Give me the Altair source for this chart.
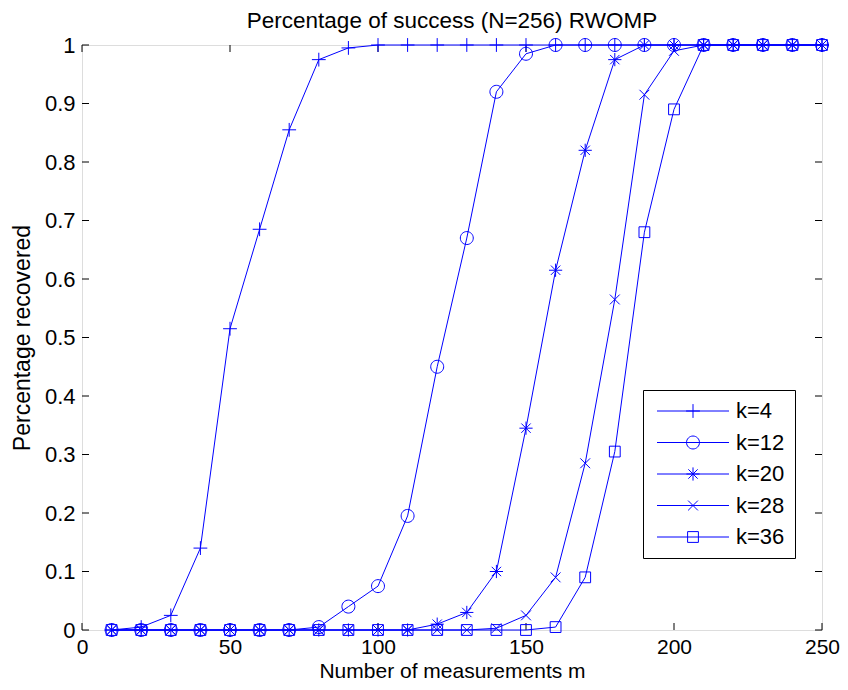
import altair as alt
import pandas as pd

# ---- data ----
m_values = [10, 20, 30, 40, 50, 60, 70, 80, 90, 100, 110, 120, 130,
            140, 150, 160, 170, 180, 190, 200, 210, 220, 230, 240, 250]
series_names = ["k=4", "k=12", "k=20", "k=28", "k=36"]
k4 = [0, 0.005, 0.025, 0.14, 0.515, 0.685, 0.855, 0.975, 0.995, 1, 1, 1, 1,
      1, 1, 1, 1, 1, 1, 1, 1, 1, 1, 1, 1]
k12 = [0, 0, 0, 0, 0, 0, 0, 0.005, 0.04, 0.075, 0.195, 0.45, 0.67,
       0.92, 0.985, 1, 1, 1, 1, 1, 1, 1, 1, 1, 1]
k20 = [0, 0, 0, 0, 0, 0, 0, 0, 0, 0, 0, 0.01, 0.03,
       0.10, 0.345, 0.615, 0.82, 0.975, 1, 1, 1, 1, 1, 1, 1]
k28 = [0, 0, 0, 0, 0, 0, 0, 0, 0, 0, 0, 0, 0,
       0.003, 0.025, 0.09, 0.285, 0.565, 0.915, 0.99, 1, 1, 1, 1, 1]
k36 = [0, 0, 0, 0, 0, 0, 0, 0, 0, 0, 0, 0, 0,
       0, 0, 0.005, 0.09, 0.305, 0.68, 0.89, 1, 1, 1, 1, 1]
x_ticks = [0, 50, 100, 150, 200, 250]
y_ticks = [0, 0.1, 0.2, 0.3, 0.4, 0.5, 0.6, 0.7, 0.8, 0.9, 1]

rows = []
for name, vals in zip(series_names, [k4, k12, k20, k28, k36]):
    for m, v in zip(m_values, vals):
        rows.append({"m": m, "p": v, "series": name})
df = pd.DataFrame(rows)
xt_df = pd.DataFrame({"m": x_ticks})
yt_df = pd.DataFrame({"p": y_ticks})

# ---- style ----
W, H = 740, 585
BLUE = "#0000ff"
FONT = "Liberation Sans"
FS = 22
TK = 7

marker_paths = [
    "M-1.15,0L1.15,0M0,-1.15L0,1.15",
    "M-1.08,0A1.08,1.08 0 1,0 1.08,0A1.08,1.08 0 1,0 -1.08,0Z",
    "M-1.1,0L1.1,0M0,-1.1L0,1.1M-0.78,-0.78L0.78,0.78M-0.78,0.78L0.78,-0.78",
    "M-0.82,-0.82L0.82,0.82M-0.82,0.82L0.82,-0.82",
    "M-0.9,-0.9L0.9,-0.9L0.9,0.9L-0.9,0.9Z",
]
legend_paths = ["M-6,0L6,0" + p for p in marker_paths]

x_scale = alt.Scale(domain=[0, 250], nice=False, zero=False)
y_scale = alt.Scale(domain=[0, 1], nice=False, zero=False)

x_axis = alt.Axis(values=x_ticks, title="Number of measurements m", tickSize=0,
                  domain=False, grid=False, labelFlush=False, labelFontSize=21,
                  titleFontSize=21, labelFont=FONT, titleFont=FONT,
                  titleFontWeight="normal", labelColor="black", titleColor="black",
                  labelBaseline="alphabetic", labelPadding=23.5,
                  titleY=47.2, titleBaseline="alphabetic")
y_axis = alt.Axis(values=y_ticks, title="Percentage recovered", tickSize=0,
                  domain=False, grid=False, labelFlush=False, format="~g",
                  labelFontSize=FS, titleFontSize=23, labelFont=FONT,
                  titleFont=FONT, titleFontWeight="normal", labelColor="black",
                  titleColor="black", labelPadding=7, titlePadding=10)

X = alt.X("m:Q", scale=x_scale, axis=x_axis)
Y = alt.Y("p:Q", scale=y_scale, axis=y_axis)

base = alt.Chart(df)

lines = base.mark_line(color=BLUE, strokeWidth=1).encode(
    x=X, y=Y, detail="series:N")

points = base.mark_point(filled=False, color=BLUE, size=144, strokeWidth=1,
                         opacity=1).encode(
    x=X, y=Y,
    shape=alt.Shape("series:N",
                    scale=alt.Scale(domain=series_names, range=marker_paths),
                    legend=None))

legend_layer = base.transform_filter("false").mark_point(
    filled=False, color=BLUE, size=144, strokeWidth=1, opacity=1).encode(
    x=X, y=Y,
    shape=alt.Shape("series:N",
                    scale=alt.Scale(domain=series_names, range=legend_paths),
                    legend=alt.Legend(orient="none", legendX=561, legendY=345,
                                      title=None, labelFontSize=FS,
                                      labelFont=FONT, labelColor="black",
                                      padding=10, symbolOffset=29,
                                      labelOffset=32, rowPadding=9.5,
                                      strokeColor="black", fillColor="white",
                                      symbolSize=144, symbolStrokeWidth=1,
                                      symbolStrokeColor=BLUE,
                                      symbolFillColor="transparent")))

tick_rule = dict(color="black", strokeWidth=1)
xt_bottom = alt.Chart(xt_df).mark_rule(**tick_rule).encode(
    x=X, y=alt.value(H), y2=alt.value(H - TK))
xt_top = alt.Chart(xt_df).mark_rule(**tick_rule).encode(
    x=X, y=alt.value(0), y2=alt.value(TK))
yt_left = alt.Chart(yt_df).mark_rule(**tick_rule).encode(
    y=Y, x=alt.value(0), x2=alt.value(TK))
yt_right = alt.Chart(yt_df).mark_rule(**tick_rule).encode(
    y=Y, x=alt.value(W), x2=alt.value(W - TK))

chart = alt.layer(
    xt_bottom, xt_top, yt_left, yt_right, lines, points, legend_layer
).resolve_scale(shape="independent").properties(
    width=W, height=H,
    title=alt.TitleParams("Percentage of success (N=256) RWOMP", fontSize=22.5,
                          font=FONT, fontWeight="normal", color="black",
                          anchor="middle", offset=2),
    padding={"left": 74, "top": 37, "right": 18, "bottom": 52},
    autosize=alt.AutoSizeParams(type="none"),
).configure_view(stroke="black", strokeWidth=1).configure(background="white")

chart.save("out.html", embed_options={"renderer": "svg", "actions": False})
